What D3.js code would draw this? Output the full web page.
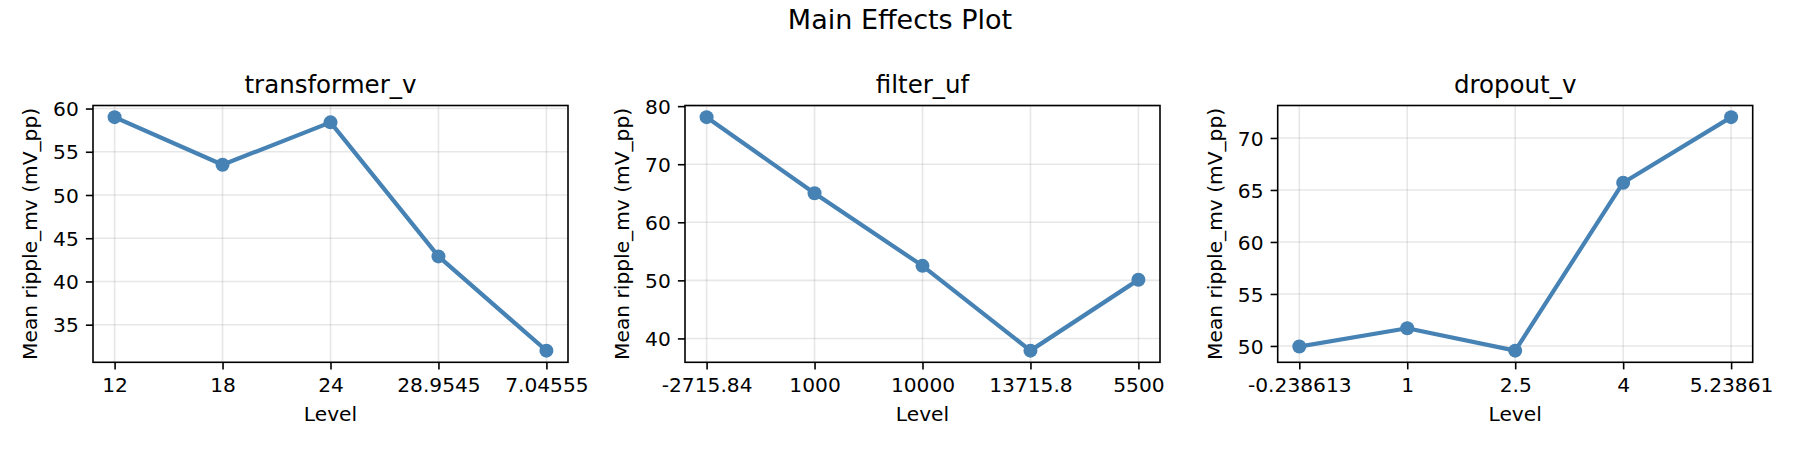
<!DOCTYPE html>
<html>
<head>
<meta charset="utf-8">
<script src="https://cdn.jsdelivr.net/npm/d3@7"></script>
<style>
  html, body { margin: 0; padding: 0; background: #ffffff; }
  svg { display: block; font-family: "DejaVu Sans", sans-serif; }
</style>
</head>
<body>
<svg id="chart" width="1800" height="450"></svg>
<script>
// ---- data ----
const figureTitle = "Main Effects Plot";
const factorNames = ["transformer_v", "filter_uf", "dropout_v"];

const levelsTransformer = ["12", "18", "24", "28.9545", "7.04555"];
const meansTransformer  = [59.0, 53.5, 58.4, 42.9, 32.0];
const yTicksTransformer = [35, 40, 45, 50, 55, 60];

const levelsFilter = ["-2715.84", "1000", "10000", "13715.8", "5500"];
const meansFilter  = [78.1, 65.0, 52.5, 37.9, 50.1];
const yTicksFilter = [40, 50, 60, 70, 80];

const levelsDropout = ["-0.238613", "1", "2.5", "4", "5.23861"];
const meansDropout  = [49.95, 51.7, 49.55, 65.7, 72.0];
const yTicksDropout = [50, 55, 60, 65, 70];

const xLabel = "Level";
const yLabel = "Mean ripple_mv (mV_pp)";

// ---- layout ----
const panels = [
  { title: factorNames[0], levels: levelsTransformer, means: meansTransformer, yTicks: yTicksTransformer, left: 93 },
  { title: factorNames[1], levels: levelsFilter, means: meansFilter, yTicks: yTicksFilter, left: 685 },
  { title: factorNames[2], levels: levelsDropout, means: meansDropout, yTicks: yTicksDropout, left: 1277.7 }
];
const axW = 475, axTop = 105.5, axBottom = 362.3;
const color = "#4682b4";
const tickFont = 20.2, titleFont = 24.5, supFont = 27;
const tickLen = 7.1, tickPad = 7.1;

const svg = d3.select("#chart");
svg.append("rect").attr("width", 1800).attr("height", 450).attr("fill", "#fff");

svg.append("text")
  .attr("x", 900).attr("y", 29.3)
  .attr("text-anchor", "middle")
  .attr("font-size", supFont)
  .attr("fill", "#000")
  .text(figureTitle);

panels.forEach((p, pi) => {
  const n = p.levels.length;
  const x = d3.scaleLinear().domain([-0.05 * (n - 1), (n - 1) * 1.05]).range([p.left, p.left + axW]);
  const lo = d3.min(p.means), hi = d3.max(p.means), pad = (hi - lo) * 0.05;
  const y = d3.scaleLinear().domain([lo - pad, hi + pad]).range([axBottom, axTop]);

  const g = svg.append("g");
  const clipId = "clip" + pi;
  g.append("clipPath").attr("id", clipId)
    .append("rect").attr("x", p.left).attr("y", axTop).attr("width", axW).attr("height", axBottom - axTop);

  // grid
  const grid = g.append("g").attr("stroke", "#b0b0b0").attr("stroke-opacity", 0.3).attr("stroke-width", 1.6);
  d3.range(n).forEach(i => {
    grid.append("line").attr("x1", x(i)).attr("x2", x(i)).attr("y1", axTop).attr("y2", axBottom);
  });
  p.yTicks.forEach(t => {
    grid.append("line").attr("x1", p.left).attr("x2", p.left + axW).attr("y1", y(t)).attr("y2", y(t));
  });

  // line + markers
  const line = d3.line().x((d, i) => x(i)).y(d => y(d));
  const data = g.append("g").attr("clip-path", `url(#${clipId})`);
  data.append("path").datum(p.means)
    .attr("d", line)
    .attr("fill", "none")
    .attr("stroke", color)
    .attr("stroke-width", 4.2)
    .attr("stroke-linejoin", "round")
    .attr("stroke-linecap", "square");
  data.selectAll("circle").data(p.means).enter().append("circle")
    .attr("cx", (d, i) => x(i)).attr("cy", d => y(d))
    .attr("r", 7).attr("fill", color);

  // axes
  const xAxis = d3.axisBottom(x).tickValues(d3.range(n)).tickFormat(i => p.levels[i])
    .tickSizeInner(tickLen).tickSizeOuter(0).tickPadding(tickPad);
  const ax = g.append("g").attr("transform", `translate(0,${axBottom})`).call(xAxis);
  const yAxis = d3.axisLeft(y).tickValues(p.yTicks).tickFormat(d3.format("d"))
    .tickSizeInner(tickLen).tickSizeOuter(0).tickPadding(tickPad);
  const ay = g.append("g").attr("transform", `translate(${p.left},0)`).call(yAxis);
  [ax, ay].forEach(a => {
    a.select(".domain").remove();
    a.selectAll(".tick line").attr("stroke", "#000").attr("stroke-width", 1.6);
    a.selectAll(".tick text").attr("font-size", tickFont).attr("fill", "#000")
      .attr("font-family", "DejaVu Sans, sans-serif");
  });
  ax.selectAll(".tick text").attr("dy", null).attr("y", 30.2);
  ay.selectAll(".tick text").attr("dy", "0.35em");

  // spines
  g.append("rect")
    .attr("x", p.left).attr("y", axTop).attr("width", axW).attr("height", axBottom - axTop)
    .attr("fill", "none").attr("stroke", "#000").attr("stroke-width", 1.6);

  // titles and labels
  g.append("text")
    .attr("x", p.left + axW / 2).attr("y", 92.8)
    .attr("text-anchor", "middle").attr("font-size", titleFont).attr("fill", "#000")
    .text(p.title);
  g.append("text")
    .attr("x", p.left + axW / 2).attr("y", 420.7)
    .attr("text-anchor", "middle").attr("font-size", tickFont).attr("fill", "#000")
    .text(xLabel);
  g.append("text")
    .attr("transform", `translate(${p.left - 56},${(axTop + axBottom) / 2}) rotate(-90)`)
    .attr("text-anchor", "middle").attr("font-size", tickFont).attr("fill", "#000")
    .text(yLabel);
});
</script>
</body>
</html>
